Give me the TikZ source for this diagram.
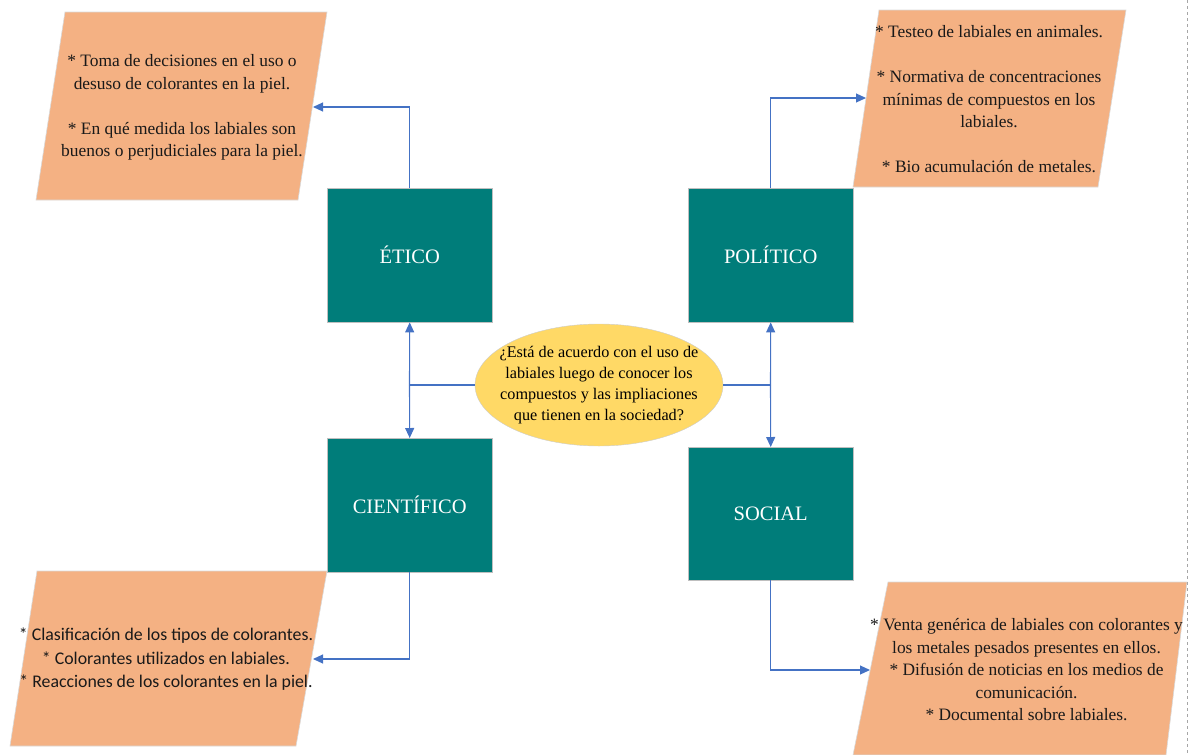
\documentclass[tikz,border=0pt]{standalone}
\usepackage{fontspec}
\setmainfont{Liberation Serif}
\newfontfamily\calibrifont{Carlito}
\usetikzlibrary{arrows.meta,shapes.geometric}
\definecolor{tealbox}{HTML}{007D7A}
\definecolor{peach}{HTML}{F4B183}
\definecolor{ellyellow}{HTML}{FFD966}
\definecolor{arrowblue}{HTML}{4472C4}
\begin{document}
\begin{tikzpicture}[x=1pt,y=-1pt,
  catbox/.style={draw=gray!50, fill=tealbox, text=white, minimum width=165pt, minimum height=134pt, inner sep=0pt, anchor=north west, font=\fontsize{20.5}{24}\selectfont},
  parabox/.style={draw=gray!30, fill=peach, line width=0.6pt},
  ptext/.style={align=center, inner sep=0pt, text=black!90, font=\fontsize{17.4}{22.5}\selectfont},
  line/.style={draw=arrowblue, line width=1.1pt},
  conn/.style={line, -{Triangle[length=10pt,width=9pt]}},
]
\useasboundingbox (0,0) rectangle (1189,755);
% parallelograms
\path[parabox] (65,12) -- (327,12) -- (298,200) -- (36,200) -- cycle;
\path[parabox] (879,10) -- (1126,10) -- (1098,187) -- (853,187) -- cycle;
\path[parabox] (37,571) -- (327,571) -- (296,746) -- (10,746) -- cycle;
\path[parabox] (888,582) -- (1187,582) -- (1166,755) -- (853,755) -- cycle;
% texts in parallelograms
\node[ptext] (tlt) at (182,107.5) {* Toma de decisiones en el uso o\\ desuso de colorantes en la piel.\\[22.5pt] * En qué medida los labiales son\\ buenos o perjudiciales para la piel.};
\node[ptext] (trt) at (989,99.5) {* Testeo de labiales en animales.\\[22.5pt] * Normativa de concentraciones\\ mínimas de compuestos en los\\ labiales.\\[22.5pt] * Bio acumulación de metales.};
\node[ptext, font=\calibrifont\fontsize{17.8}{23.5}\selectfont] (blt) at (166,659.5) {* Clasificación de los tipos de colorantes.\\ * Colorantes utilizados en labiales.\\ * Reacciones de los colorantes en la piel.};
\node[ptext] (brt) at (1026.5,670) {* Venta genérica de labiales con colorantes y\\ los metales pesados presentes en ellos.\\ * Difusión de noticias en los medios de\\ comunicación.\\ * Documental sobre labiales.};
% category boxes
\node[catbox] (etico) at (327,188) {ÉTICO};
\node[catbox] (polit) at (688,188) {POLÍTICO};
\node[catbox] (cient) at (327,438) {CIENTÍFICO};
\node[catbox, minimum height=133pt] (social) at (688,447) {SOCIAL};
% central ellipse
\node[ellipse, draw=gray!40, fill=ellyellow, minimum width=248pt, minimum height=122pt, inner sep=0pt] (q) at (599,385) {};
\node[align=center, inner sep=0pt, font=\fontsize{16.2}{21}\selectfont] (qt) at (q.center) {¿Está de acuerdo con el uso de\\ labiales luego de conocer los\\ compuestos y las impliaciones\\ que tienen en la sociedad?};
% connector coordinates
\coordinate (jl) at (409.5,385);
\coordinate (jr) at (770.5,385);
\coordinate (tlp) at (313,107);
\coordinate (trp) at (866,98);
\coordinate (blp) at (313,659);
\coordinate (brp) at (870,670);
% connectors
\draw[line] (q.west) -- (jl);
\draw[line] (q.east) -- (jr);
\draw[conn] (jl) -- (etico.south);
\draw[conn] (jl) -- (cient.north);
\draw[conn] (jr) -- (polit.south);
\draw[conn] (jr) -- (social.north);
\draw[conn] (etico.north) |- (tlp);
\draw[conn] (polit.north) |- (trp);
\draw[conn] (cient.south) |- (blp);
\draw[conn] (social.south) |- (brp);
% dashed page edge
\draw[gray!70, dashed, line width=0.8pt] (1187,0) -- (1187,755);
\end{tikzpicture}
\end{document}
